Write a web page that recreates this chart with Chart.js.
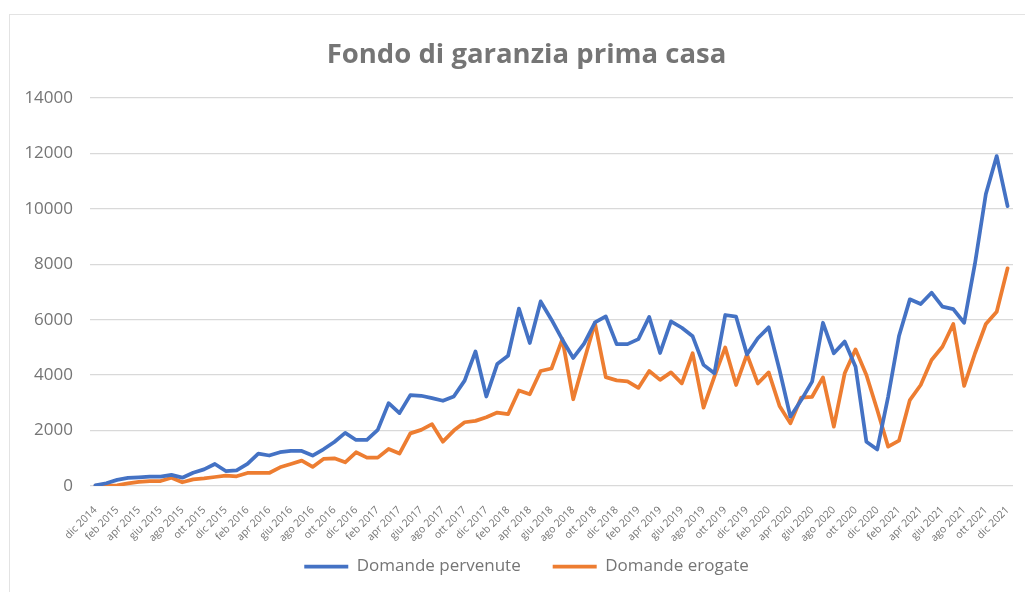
<!DOCTYPE html>
<html>
<head>
<meta charset="utf-8">
<script src="https://cdn.jsdelivr.net/npm/chart.js@4/dist/chart.umd.min.js"></script>
<style>
  body { margin: 0; background: #fff; overflow: hidden; }
  #frame { position: absolute; left: 9px; top: 14px; width: 1040px; height: 620px; border: 1px solid #e3e3e3; }
  #wrap { position: absolute; left: 0; top: 0; width: 1025px; height: 592px; }
</style>
</head>
<body>
<div id="frame"></div>
<div id="wrap"><canvas id="ctx" width="1025" height="592"></canvas></div>
<script>
const months = [
  'dic 2014',
  'gen 2015', 'feb 2015', 'mar 2015', 'apr 2015', 'mag 2015', 'giu 2015', 'lug 2015', 'ago 2015', 'set 2015', 'ott 2015', 'nov 2015', 'dic 2015',
  'gen 2016', 'feb 2016', 'mar 2016', 'apr 2016', 'mag 2016', 'giu 2016', 'lug 2016', 'ago 2016', 'set 2016', 'ott 2016', 'nov 2016', 'dic 2016',
  'gen 2017', 'feb 2017', 'mar 2017', 'apr 2017', 'mag 2017', 'giu 2017', 'lug 2017', 'ago 2017', 'set 2017', 'ott 2017', 'nov 2017', 'dic 2017',
  'gen 2018', 'feb 2018', 'mar 2018', 'apr 2018', 'mag 2018', 'giu 2018', 'lug 2018', 'ago 2018', 'set 2018', 'ott 2018', 'nov 2018', 'dic 2018',
  'gen 2019', 'feb 2019', 'mar 2019', 'apr 2019', 'mag 2019', 'giu 2019', 'lug 2019', 'ago 2019', 'set 2019', 'ott 2019', 'nov 2019', 'dic 2019',
  'gen 2020', 'feb 2020', 'mar 2020', 'apr 2020', 'mag 2020', 'giu 2020', 'lug 2020', 'ago 2020', 'set 2020', 'ott 2020', 'nov 2020', 'dic 2020',
  'gen 2021', 'feb 2021', 'mar 2021', 'apr 2021', 'mag 2021', 'giu 2021', 'lug 2021', 'ago 2021', 'set 2021', 'ott 2021', 'nov 2021', 'dic 2021'
];

// Domande pervenute
const pervenute = [
  20,
  100, 220, 290, 315, 335, 340, 400, 300, 480, 600, 795, 540,
  566, 795, 1170, 1100, 1220, 1265, 1265, 1100, 1325, 1590, 1915, 1660,
  1660, 2024, 2990, 2630, 3280, 3255, 3170, 3075, 3230, 3800, 4855, 3230,
  4400, 4700, 6400, 5160, 6660, 6000, 5280, 4620, 5140, 5900, 6120, 5120,
  5120, 5300, 6100, 4800, 5940, 5710, 5400, 4370, 4065, 6170, 6110, 4750,
  5330, 5725, 4185, 2500, 3100, 3765, 5890, 4790, 5210, 4305, 1600, 1320,
  3220, 5410, 6735, 6565, 6975, 6470, 6385, 5890, 8030, 10535, 11905, 10100
];

// Domande erogate
const erogate = [
  10,
  10, 25, 96, 145, 180, 180, 300, 133, 240, 277, 325, 373,
  350, 470, 470, 470, 675, 795, 915, 687, 976, 1000, 855, 1217,
  1024, 1024, 1337, 1170, 1900, 2024, 2230, 1600, 2000, 2300, 2350, 2480,
  2650, 2590, 3445, 3310, 4150, 4240, 5300, 3130, 4520, 5880, 3930, 3810,
  3775, 3540, 4150, 3830, 4100, 3705, 4790, 2830, 3945, 5000, 3645, 4750,
  3700, 4100, 2890, 2260, 3190, 3220, 3920, 2140, 4065, 4930, 4005, 2740,
  1420, 1635, 3100, 3645, 4545, 5025, 5845, 3610, 4790, 5845, 6290, 7855
];

const grey = '#757575';
const fontFam = "'Open Sans', sans-serif";

// tick labels are clipped to their scale box; widen the boxes after layout
// so the labels can hang outside like in the Excel original
const labelRoom = {
  id: 'labelRoom',
  afterLayout(chart) {
    chart.scales.x.bottom = chart.height;
    chart.scales.y.left = 0;
  }
};

const chart = new Chart(document.getElementById('ctx'), {
  type: 'line',
  data: {
    labels: months,
    datasets: [{
      label: 'Domande pervenute',
      data: pervenute,
      borderColor: '#4472C4',
      backgroundColor: '#4472C4',
      borderWidth: 3.75,
      pointRadius: 0,
      pointStyle: 'line',
      borderJoinStyle: 'round',
      borderCapStyle: 'round',
      tension: 0
    }, {
      label: 'Domande erogate',
      data: erogate,
      borderColor: '#ED7D31',
      backgroundColor: '#ED7D31',
      borderWidth: 3.75,
      pointRadius: 0,
      pointStyle: 'line',
      borderJoinStyle: 'round',
      borderCapStyle: 'round',
      tension: 0
    }]
  },
  plugins: [labelRoom],
  options: {
    responsive: false,
    animation: false,
    layout: {
      padding: { left: 28, right: 0, top: 20, bottom: 7 }
    },
    plugins: {
      title: {
        display: true,
        text: 'Fondo di garanzia prima casa',
        color: grey,
        font: { family: fontFam, size: 27.5, weight: 'bold' },
        padding: { top: 19, bottom: 26 }
      },
      legend: {
        position: 'bottom',
        labels: {
          usePointStyle: true,
          pointStyleWidth: 44,
          color: grey,
          font: { family: fontFam, size: 17 },
          padding: 32
        }
      },
      tooltip: { enabled: false }
    },
    scales: {
      x: {
        offset: true,
        grid: { display: false },
        border: { display: false },
        afterFit: function (scale) {
          scale.height = 40;
          scale.paddingLeft = 0;
          scale.paddingRight = 12;
        },
        ticks: {
          autoSkip: false,
          maxRotation: 45,
          minRotation: 45,
          padding: 10,
          color: grey,
          font: { family: fontFam, size: 10.5 },
          callback: function (v, i) {
            return i % 2 === 0 ? months[i] : '';
          }
        }
      },
      y: {
        min: 0,
        max: 14000,
        border: { display: false },
        grid: { color: '#d9d9d9', lineWidth: 1.3, drawTicks: false },
        afterFit: function (scale) {
          scale.width = 62;
        },
        ticks: {
          stepSize: 2000,
          padding: 17,
          color: grey,
          font: { family: fontFam, size: 17 },
          callback: function (v) {
            return String(v);
          }
        }
      }
    }
  }
});
</script>
</body>
</html>
